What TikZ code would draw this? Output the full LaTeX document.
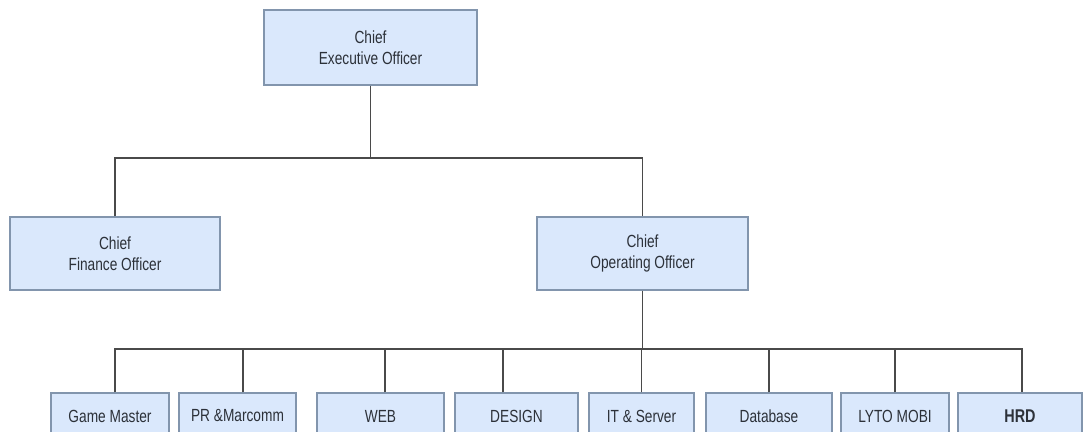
\documentclass[tikz,border=0pt]{standalone}
\usepackage{fontspec}
\newfontfamily\narrowfont[FakeStretch=0.78]{Liberation Sans}
\usepackage{tikz}

\definecolor{boxfill}{HTML}{DAE8FC}
\definecolor{boxline}{HTML}{8295AD}
\definecolor{wire}{HTML}{4A4A4A}
\definecolor{ink}{HTML}{2C3139}

\tikzset{
    unitbox/.style={draw=boxline, fill=boxfill, line width=0.7pt, inner sep=0pt,
        text=ink, font=\narrowfont\fontsize{10}{12}\selectfont, align=center},
    wireline/.style={draw=wire, line width=0.9pt}
}

\begin{document}
\begin{tikzpicture}
    \clip (0,0) rectangle (21.66,-8.64);
    \fill[white] (0,0) rectangle (21.66,-8.64);
    % top level
    \node[unitbox, minimum width=4.26cm, minimum height=1.5cm] (ceo) at (7.41,-0.95) {Chief\\Executive Officer};
    \node[unitbox, minimum width=4.2cm, minimum height=1.46cm] (cfo) at (2.3,-5.07) {Chief\\Finance Officer};
    \node[unitbox, minimum width=4.22cm, minimum height=1.46cm] (coo) at (12.85,-5.07) {Chief\\Operating Officer};
    \coordinate (topbus) at (7.41,-3.16);
    \draw[wireline] (ceo) -- (topbus);
    \draw[wireline] (cfo.north) |- (topbus) -| (coo.north);
    % divisions
    \node[unitbox, minimum width=2.36cm, minimum height=0.92cm] (gm) at (2.2,-8.32) {Game Master};
    \node[unitbox, minimum width=2.34cm, minimum height=0.92cm] (pr) at (4.75,-8.32) {PR \&Marcomm};
    \node[unitbox, minimum width=2.54cm, minimum height=0.92cm] (web) at (7.61,-8.32) {WEB};
    \node[unitbox, minimum width=2.46cm, minimum height=0.92cm] (design) at (10.33,-8.32) {DESIGN};
    \node[unitbox, minimum width=2.1cm, minimum height=0.92cm] (it) at (12.83,-8.32) {IT \& Server};
    \node[unitbox, minimum width=2.52cm, minimum height=0.92cm] (db) at (15.38,-8.32) {Database};
    \node[unitbox, minimum width=2.16cm, minimum height=0.92cm] (lyto) at (17.9,-8.32) {LYTO MOBI};
    \node[unitbox, minimum width=2.48cm, minimum height=0.92cm, font=\narrowfont\bfseries\fontsize{10.5}{12}\selectfont] (hrd) at (20.4,-8.32) {HRD};
    \coordinate (midbus) at (12.85,-6.98);
    \draw[wireline] (coo) -- (midbus);
    \draw[wireline] ([xshift=0.1cm]gm.north) |- (midbus) -| ([xshift=0.04cm]hrd.north);
    \draw[wireline] ([xshift=0.11cm]pr.north) -- ([xshift=0.11cm]pr.north |- midbus);
    \draw[wireline] ([xshift=0.09cm]web.north) -- ([xshift=0.09cm]web.north |- midbus);
    \draw[wireline] ([xshift=-0.27cm]design.north) -- ([xshift=-0.27cm]design.north |- midbus);
    \foreach \d in {it,db,lyto}
        \draw[wireline] (\d.north) -- (\d.north |- midbus);
\end{tikzpicture}
\end{document}
